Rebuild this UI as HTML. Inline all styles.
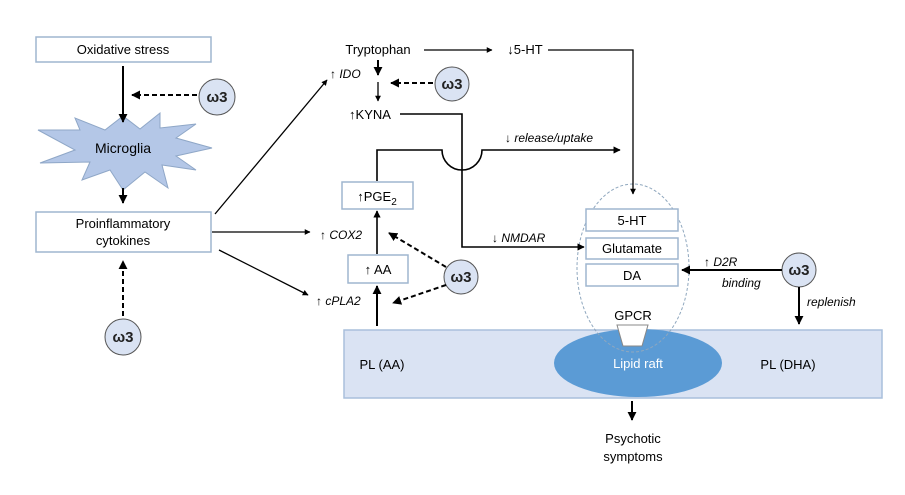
<!DOCTYPE html>
<html><head><meta charset="utf-8"><style>
body{margin:0;background:#fff;}
svg{display:block;font-family:"Liberation Sans",sans-serif;}
</style></head><body>
<svg width="905" height="495" viewBox="0 0 905 495" xmlns="http://www.w3.org/2000/svg">
<defs>
<marker id="a" viewBox="0 0 10 10" refX="9" refY="5" markerWidth="4.5" markerHeight="4.5" orient="auto"><path d="M0,0L10,5L0,10z" fill="#000"/></marker>
</defs>
<g fill="#fff" stroke="#9fb6cf" stroke-width="1.5">
<rect x="36" y="37" width="175" height="25"/>
<rect x="36" y="212" width="175" height="40"/>
<rect x="342" y="182" width="71" height="27"/>
<rect x="348" y="255" width="60" height="28"/>
</g>
<rect x="344" y="330" width="538" height="68" fill="#dae3f3" stroke="#a9bfdc" stroke-width="1.5"/>
<ellipse cx="638" cy="363" rx="84" ry="34" fill="#5b9bd5"/>
<ellipse cx="633" cy="268" rx="56" ry="84" fill="none" stroke="#8fa7be" stroke-width="1" stroke-dasharray="3,2"/>
<g fill="#fff" stroke="#9fb6cf" stroke-width="1.5">
<rect x="586" y="209" width="92" height="22"/>
<rect x="586" y="238" width="92" height="21"/>
<rect x="586" y="264" width="92" height="22"/>
</g>
<path d="M617,325 L648,325 L642,346 L623,346 Z" fill="#fff" stroke="#888" stroke-width="1"/>
<polygon points="123,116 140,129 160,113 160,128 196,124 176,138 212,148 176,156 196,170 162,165 168,188 145,172 123,190 110,170 82,180 90,162 40,163 75,150 38,130 80,130 75,118 105,130" fill="#b4c7e7" stroke="#8fa7c7" stroke-width="1"/>
<g fill="#dae3f3" stroke="#555" stroke-width="1">
<circle cx="217" cy="97" r="18"/>
<circle cx="123" cy="337" r="18"/>
<circle cx="452" cy="84" r="17"/>
<circle cx="461" cy="277" r="17"/>
<circle cx="799" cy="270" r="17"/>
</g>
<g stroke="#000" fill="none" stroke-width="2">
<line x1="123" y1="66" x2="123" y2="122" marker-end="url(#a)"/>
<line x1="123" y1="188" x2="123" y2="203" marker-end="url(#a)"/>
<line x1="378" y1="60" x2="378" y2="75" marker-end="url(#a)"/>
<line x1="377" y1="326" x2="377" y2="286" marker-end="url(#a)"/>
<line x1="799" y1="287" x2="799" y2="324" marker-end="url(#a)"/>
<line x1="782" y1="270" x2="682" y2="270" marker-end="url(#a)"/>
<line x1="632" y1="401" x2="632" y2="420" marker-end="url(#a)"/>
</g>
<g stroke="#000" fill="none" stroke-width="2" stroke-dasharray="5,3">
<line x1="197" y1="95" x2="132" y2="95" marker-end="url(#a)"/>
<line x1="123" y1="316" x2="123" y2="261" marker-end="url(#a)"/>
<line x1="433" y1="83" x2="391" y2="83" marker-end="url(#a)"/>
<line x1="446" y1="267" x2="389" y2="233" marker-end="url(#a)"/>
<line x1="446" y1="285" x2="393" y2="303" marker-end="url(#a)"/>
</g>
<g stroke="#000" fill="none" stroke-width="1.3">
<line x1="215" y1="214" x2="327" y2="80" marker-end="url(#a)"/>
<line x1="212" y1="232" x2="310" y2="232" marker-end="url(#a)"/>
<line x1="219" y1="250" x2="308" y2="295" marker-end="url(#a)"/>
<line x1="424" y1="50" x2="492" y2="50" marker-end="url(#a)"/>
<polyline points="548,50 633,50 633,194" marker-end="url(#a)"/>
<line x1="378" y1="82" x2="378" y2="101" marker-end="url(#a)"/>
<polyline points="400,114 462,114 462,247 584,247" stroke-width="1.6" marker-end="url(#a)"/>
<path d="M377,181 L377,150 L442,150 A20,20 0 0 0 482,150 L620,150" stroke-width="1.6" marker-end="url(#a)"/>
<line x1="377" y1="254" x2="377" y2="211" stroke-width="1.6" marker-end="url(#a)"/>
</g>
<g font-size="13" text-anchor="middle" fill="#000">
<text x="123" y="54">Oxidative stress</text>
<text x="123" y="153" font-size="14">Microglia</text>
<text x="123" y="228">Proinflammatory</text>
<text x="123" y="245">cytokines</text>
<text x="378" y="54">Tryptophan</text>
<text x="525" y="54">↓5-HT</text>
<text x="370" y="119">↑KYNA</text>
<text x="377" y="201">↑PGE<tspan font-size="10" dy="4">2</tspan></text>
<text x="378" y="274">↑ AA</text>
<text x="632" y="225">5-HT</text>
<text x="632" y="253">Glutamate</text>
<text x="632" y="280">DA</text>
<text x="633" y="320">GPCR</text>
<text x="638" y="368" fill="#fff">Lipid raft</text>
<text x="382" y="369">PL (AA)</text>
<text x="788" y="369">PL (DHA)</text>
<text x="633" y="443">Psychotic</text>
<text x="633" y="461">symptoms</text>
</g>
<g font-size="12" font-style="italic" fill="#000">
<text x="330" y="78"><tspan font-style="normal">↑</tspan> IDO</text>
<text x="320" y="239"><tspan font-style="normal">↑</tspan> COX2</text>
<text x="316" y="305"><tspan font-style="normal">↑</tspan> cPLA2</text>
<text x="505" y="142"><tspan font-style="normal">↓</tspan> release/uptake</text>
<text x="492" y="242"><tspan font-style="normal">↓</tspan> NMDAR</text>
<text x="704" y="266"><tspan font-style="normal">↑</tspan> D2R</text>
<text x="722" y="287">binding</text>
<text x="807" y="306">replenish</text>
</g>
<g font-size="15" font-weight="bold" text-anchor="middle" fill="#222">
<text x="217" y="102">ω3</text>
<text x="123" y="342">ω3</text>
<text x="452" y="89">ω3</text>
<text x="461" y="282">ω3</text>
<text x="799" y="275">ω3</text>
</g>
</svg>
</body></html>
